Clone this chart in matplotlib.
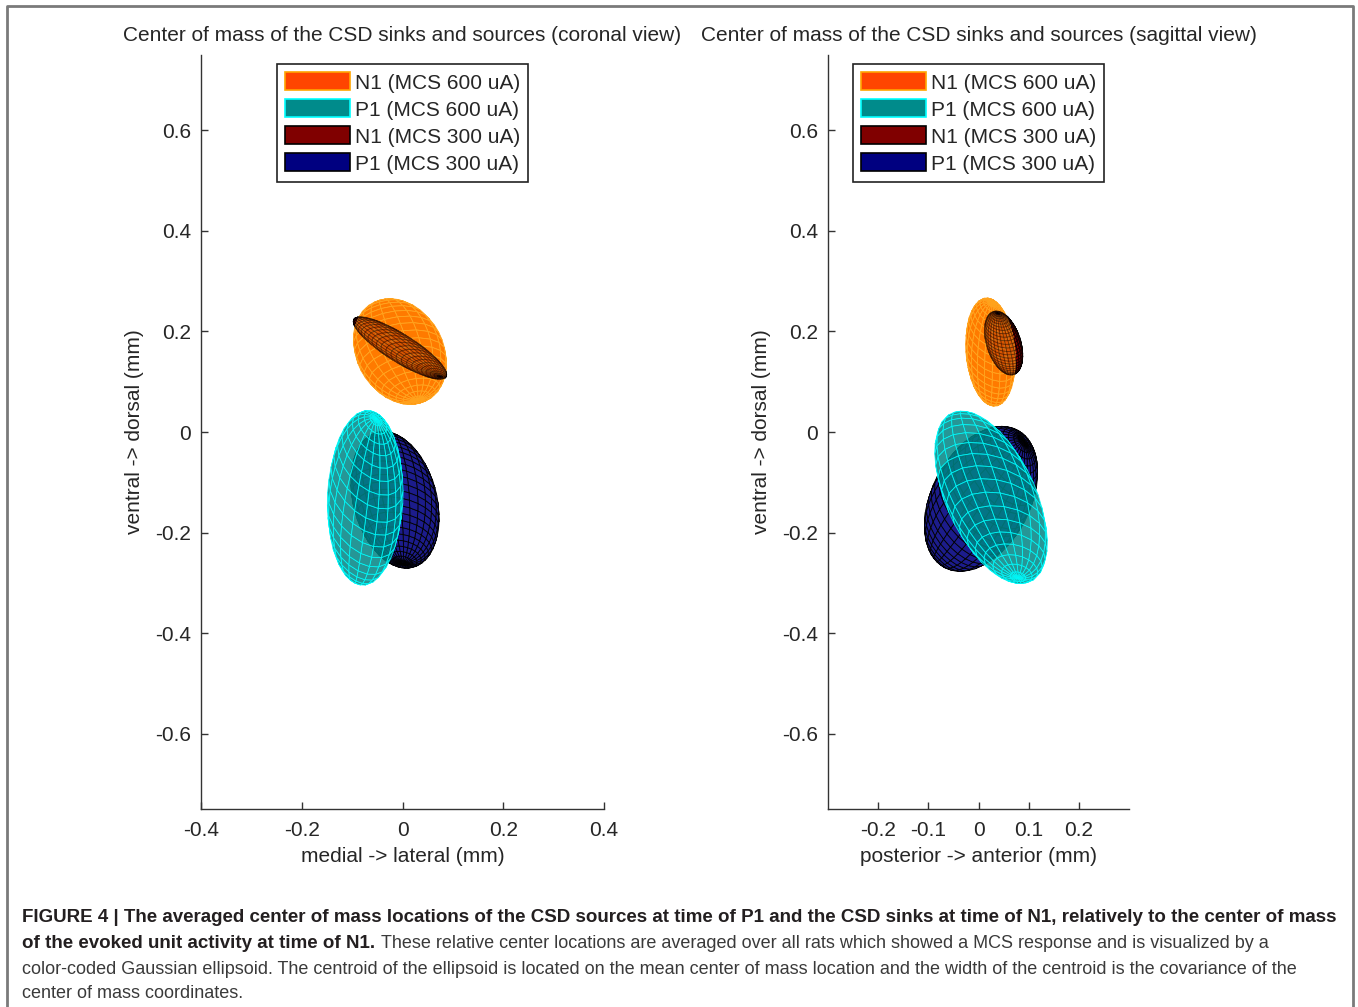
import numpy as np
import matplotlib.pyplot as plt
from matplotlib.collections import PolyCollection
from matplotlib.patches import Patch
from matplotlib.lines import Line2D

plt.rcParams['font.family'] = ['Liberation Sans', 'DejaVu Sans']

# legend entries: N1 600, P1 600, N1 300, P1 300
labels = ['N1 (MCS 600 uA)', 'P1 (MCS 600 uA)', 'N1 (MCS 300 uA)', 'P1 (MCS 300 uA)']
face_colors = ['#ff7a00', '#008484', '#800000', '#1c1c8c']
edge_colors = ['#ffa51e', '#00ffff', '#000000', '#000000']
legend_faces = ['#ff4500', '#008b8b', '#800000', '#000080']
legend_edges = ['#ffa500', '#00ffff', '#000000', '#000000']

# projected ellipsoids, coronal view: centre, semi-axes (mm), angle of major axis (deg)
coronal_cx = [-0.005, -0.074, -0.005, -0.015]
coronal_cy = [0.160, -0.131, 0.167, -0.135]
coronal_a = [0.111, 0.174, 0.108, 0.139]
coronal_b = [0.086, 0.075, 0.028, 0.083]
coronal_ang = [-60, 88, -32, -75]

# sagittal view
sagittal_cx = [0.024, 0.025, 0.050, 0.005]
sagittal_cy = [0.159, -0.130, 0.177, -0.133]
sagittal_a = [0.108, 0.185, 0.066, 0.155]
sagittal_b = [0.049, 0.089, 0.034, 0.098]
sagittal_ang = [95, -65, 108, 62]

mesh_n = [20, 20, 28, 28]

titles = ['Center of mass of the CSD sinks and sources (coronal view)',
          'Center of mass of the CSD sinks and sources (sagittal view)']
xlabels = ['medial -> lateral (mm)', 'posterior -> anterior (mm)']
ylabel = 'ventral -> dorsal (mm)'
xticks = [[-0.4, -0.2, 0, 0.2, 0.4], [-0.2, -0.1, 0, 0.1, 0.2]]
yticks = [-0.6, -0.4, -0.2, 0, 0.2, 0.4, 0.6]

caption_bold1 = ('FIGURE 4 | The averaged center of mass locations of the CSD sources at time of P1 '
                 'and the CSD sinks at time of N1, relatively to the center of mass')
caption_bold2 = 'of the evoked unit activity at time of N1.'
caption_rest2 = ('These relative center locations are averaged over all rats which showed a MCS '
                 'response and is visualized by a')
caption_line3 = ('color-coded Gaussian ellipsoid. The centroid of the ellipsoid is located on the mean '
                 'center of mass location and the width of the centroid is the covariance of the')
caption_line4 = 'center of mass coordinates.'


def ellipsoid_quads(cx, cy, a, b, ang, n, tilt=(12, 68)):
    u = np.linspace(0, 2 * np.pi, n + 1)
    v = np.linspace(0, np.pi, n + 1)
    U, V = np.meshgrid(u, v)
    X = np.sin(V) * np.cos(U)
    Y = np.sin(V) * np.sin(U)
    Z = np.cos(V)
    # tilt the mesh so its poles sit near the ends of the major axis
    t1, t2 = np.radians(tilt)
    Y, Z = Y * np.cos(t1) - Z * np.sin(t1), Y * np.sin(t1) + Z * np.cos(t1)
    X, Z = X * np.cos(t2) + Z * np.sin(t2), -X * np.sin(t2) + Z * np.cos(t2)
    th = np.radians(ang)
    xs, ys = a * X, b * Y
    px = cx + xs * np.cos(th) - ys * np.sin(th)
    py = cy + xs * np.sin(th) + ys * np.cos(th)
    quads, depth = [], []
    for i in range(n):
        for j in range(n):
            zq = Z[i:i + 2, j:j + 2].mean()
            if zq < -0.03:
                continue
            quads.append([(px[i, j], py[i, j]), (px[i, j + 1], py[i, j + 1]),
                          (px[i + 1, j + 1], py[i + 1, j + 1]), (px[i + 1, j], py[i + 1, j])])
            depth.append(zq)
    order = np.argsort(depth)
    return [quads[k] for k in order]


def draw_ellipsoid(ax, cx, cy, a, b, ang, k, alpha=1.0, z=2):
    quads = ellipsoid_quads(cx[k], cy[k], a[k], b[k], ang[k], mesh_n[k])
    pc = PolyCollection(quads, facecolors=face_colors[k], edgecolors=edge_colors[k],
                        linewidths=0.6, alpha=alpha, zorder=z)
    ax.add_collection(pc)


fig = plt.figure(figsize=(13.58, 10.07), dpi=100)

positions = [[201 / 1358, 1 - 809 / 1007, 403 / 1358, 754 / 1007],
             [828 / 1358, 1 - 809 / 1007, 301 / 1358, 754 / 1007]]
xlims = [(-0.4, 0.4), (-0.3, 0.3)]
views = [(coronal_cx, coronal_cy, coronal_a, coronal_b, coronal_ang),
         (sagittal_cx, sagittal_cy, sagittal_a, sagittal_b, sagittal_ang)]

txt_col = '#262626'
fs = 15
for p in range(2):
    ax = fig.add_axes(positions[p])
    cx, cy, a, b, ang = views[p]
    # P1 300 behind, P1 600 translucent in front
    draw_ellipsoid(ax, cx, cy, a, b, ang, 3, z=2)
    draw_ellipsoid(ax, cx, cy, a, b, ang, 1, alpha=0.85, z=3)
    # N1 300 partly inside N1 600
    draw_ellipsoid(ax, cx, cy, a, b, ang, 2, z=2)
    draw_ellipsoid(ax, cx, cy, a, b, ang, 0, z=3)
    draw_ellipsoid(ax, cx, cy, a, b, ang, 2, alpha=0.3, z=4)

    ax.set_xlim(*xlims[p])
    ax.set_ylim(-0.75, 0.75)
    ax.set_xticks(xticks[p])
    ax.set_xticklabels([f'{t:g}' for t in xticks[p]])
    ax.set_yticks(yticks)
    ax.set_yticklabels([f'{t:g}' for t in yticks])
    for s in ['top', 'right']:
        ax.spines[s].set_visible(False)
    for s in ['left', 'bottom']:
        ax.spines[s].set_color('#333333')
        ax.spines[s].set_linewidth(1.0)
    ax.tick_params(direction='in', length=5, width=1.0, color='#333333',
                   labelcolor=txt_col, labelsize=fs)
    ax.tick_params(axis='x', pad=9)
    ax.tick_params(axis='y', pad=7)
    ax.set_title(titles[p], fontsize=fs, color=txt_col, pad=10)
    ax.set_xlabel(xlabels[p], fontsize=fs, color=txt_col, labelpad=5)
    ax.set_ylabel(ylabel, fontsize=fs, color=txt_col, labelpad=8)

    handles = [Patch(facecolor=legend_faces[k], edgecolor=legend_edges[k], linewidth=1.2)
               for k in range(4)]
    leg = ax.legend(handles, labels, loc='upper center', bbox_to_anchor=(0.5, 0.988),
                    borderaxespad=0, fontsize=fs, handlelength=3.1, handleheight=0.95,
                    handletextpad=0.25, labelspacing=0.33, borderpad=0.4, fancybox=False,
                    framealpha=1, edgecolor='#222222', labelcolor=txt_col)
    leg.get_frame().set_linewidth(1.2)

# page frame
frame_col = '#7a7a7a'
fx0, fx1, fy1 = 7 / 1358, 1353 / 1358, 1 - 6 / 1007
fig.add_artist(Line2D([fx0, fx0, fx1, fx1], [0, fy1, fy1, 0], transform=fig.transFigure,
                      color=frame_col, linewidth=2))

# caption
cap = fig.add_axes([0, 0, 1, 1], zorder=-1)
cap.axis('off')
x0 = 22 / 1358
ys = [1 - 918 / 1007, 1 - 943 / 1007, 1 - 969 / 1007, 1 - 994 / 1007]
cap.text(x0, ys[0], caption_bold1, fontsize=13.5, fontweight='bold', color='#231f20',
         va='center', ha='left')
b2 = cap.text(x0, ys[1], caption_bold2, fontsize=13.5, fontweight='bold', color='#231f20',
              va='center', ha='left')
cap.annotate(caption_rest2, xy=(1, 0.5), xycoords=b2, xytext=(4, 0), textcoords='offset points',
             fontsize=13, color='#3a3a3a', va='center', ha='left')
cap.text(x0, ys[2], caption_line3, fontsize=13, color='#3a3a3a', va='center', ha='left')
cap.text(x0, ys[3], caption_line4, fontsize=13, color='#3a3a3a', va='center', ha='left')

fig.savefig('out.png', dpi=100)
